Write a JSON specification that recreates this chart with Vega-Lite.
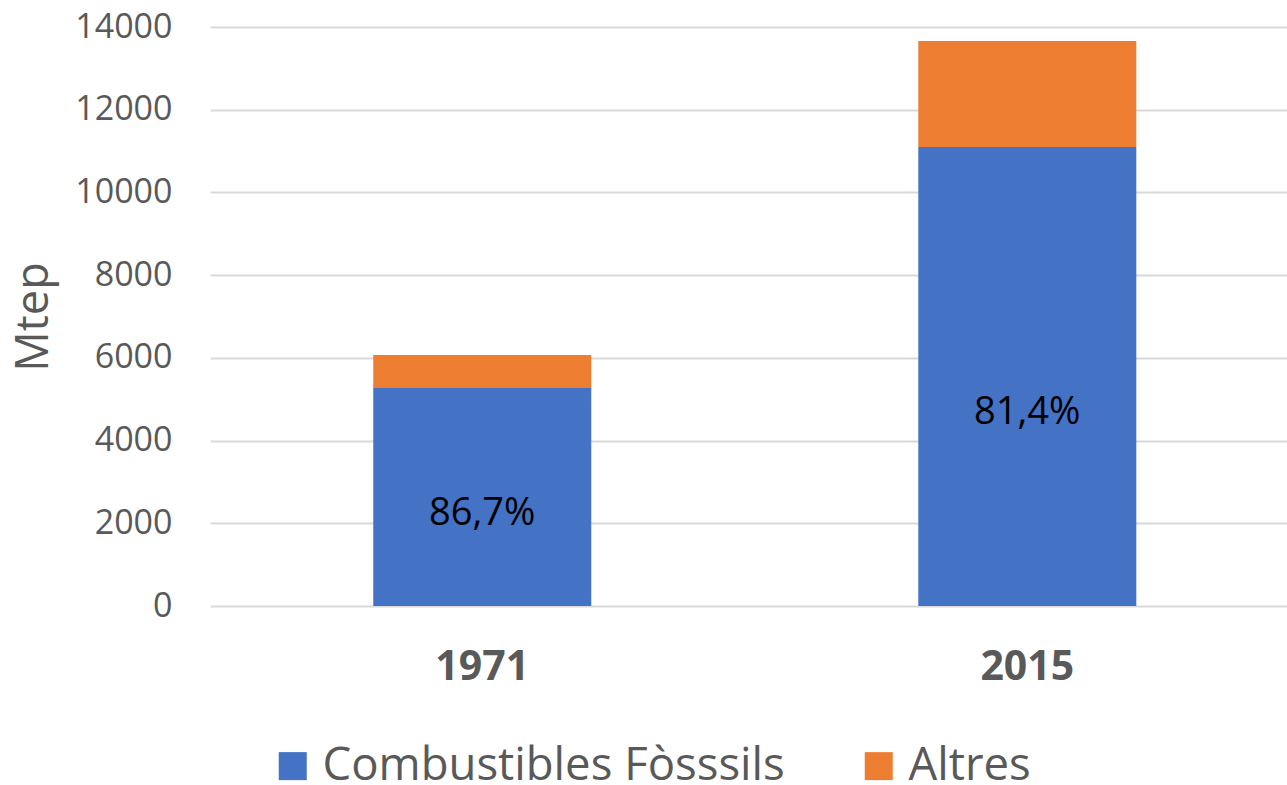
{
  "$schema": "https://vega.github.io/schema/vega-lite/v6.json",
  "autosize": {"type": "none"},
  "width": 1077,
  "height": 579,
  "padding": {"left": 210, "top": 27, "right": 0, "bottom": 179},
  "background": "white",
  "config": {
    "view": {"stroke": null},
    "font": "Open Sans"
  },
  "data": {
    "values": [
      {"year": "1971", "type": "Combustibles Fòsssils", "value": 5270, "label": "86,7%"},
      {"year": "1971", "type": "Altres", "value": 800, "label": ""},
      {"year": "2015", "type": "Combustibles Fòsssils", "value": 11100, "label": "81,4%"},
      {"year": "2015", "type": "Altres", "value": 2560, "label": ""}
    ]
  },
  "encoding": {
    "x": {
      "field": "year",
      "type": "nominal",
      "scale": {"paddingInner": 0.6, "paddingOuter": 0.288, "align": 0.52},
      "axis": {
        "title": null,
        "labelAngle": 0,
        "labelFont": "Open Sans",
        "labelFontSize": 41,
        "labelFontWeight": "bold",
        "labelColor": "#595959",
        "labelPadding": 41,
        "ticks": false,
        "domain": false
      }
    }
  },
  "layer": [
    {
      "mark": {"type": "bar"},
      "encoding": {
        "y": {
          "field": "value",
          "type": "quantitative",
          "stack": "zero",
          "scale": {"domain": [0, 14000], "nice": false},
          "axis": {
            "title": "Mtep",
            "titleFont": "Open Sans",
            "titleFontSize": 45,
            "titleFontWeight": "normal",
            "titleColor": "#595959",
            "titlePadding": 18,
            "format": "d",
            "values": [0, 2000, 4000, 6000, 8000, 10000, 12000, 14000],
            "labelFont": "Open Sans",
            "labelFontSize": 34,
            "labelColor": "#595959",
            "labelPadding": 38,
            "ticks": false,
            "domain": false,
            "grid": true,
            "gridColor": "#D9D9D9",
            "gridWidth": 2
          }
        },
        "color": {
          "field": "type",
          "type": "nominal",
          "sort": ["Combustibles Fòsssils", "Altres"],
          "scale": {"domain": ["Combustibles Fòsssils", "Altres"], "range": ["#4472C4", "#ED7D31"]},
          "legend": {
            "title": null,
            "orient": "none",
            "legendX": 60,
            "legendY": 716,
            "direction": "horizontal",
            "columns": 2,
            "columnPadding": 71,
            "symbolType": "square",
            "symbolSize": 784,
            "symbolStrokeWidth": 0,
            "labelFont": "Open Sans",
            "labelFontSize": 45.5,
            "labelColor": "#595959",
            "labelOffset": 7,
            "labelLimit": 0
          }
        }
      }
    },
    {
      "transform": [
        {"filter": "datum.label != ''"},
        {"calculate": "datum.value * 0.42", "as": "labelY"}
      ],
      "mark": {"type": "text", "font": "Open Sans", "fontSize": 38, "color": "black", "baseline": "middle", "align": "center"},
      "encoding": {
        "y": {"field": "labelY", "type": "quantitative"},
        "text": {"field": "label", "type": "nominal"}
      }
    }
  ]
}
